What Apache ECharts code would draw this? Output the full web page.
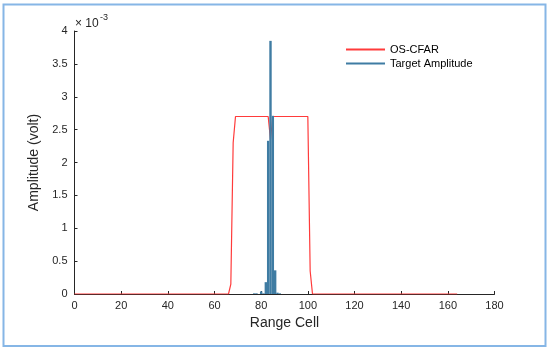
<!DOCTYPE html>
<html>
<head>
<meta charset="utf-8">
<script src="https://cdn.jsdelivr.net/npm/echarts@6/dist/echarts.min.js"></script>
<style>html,body{margin:0;padding:0;background:#fff}#c{width:550px;height:352px}</style>
</head>
<body>
<div id="c"></div>
<script>
// Values in units of 10^-3 volt
var xTicks = [0, 20, 40, 60, 80, 100, 120, 140, 160, 180];
var yTicks = [0, 0.5, 1, 1.5, 2, 2.5, 3, 3.5, 4];
// OS-CFAR threshold: [range cell, amplitude]
var osCfar = [[0,0],[66,0],[67,0.15],[68,2.3],[69,2.7],[83,2.7],[84,2.35],[85,2.7],[100,2.7],[101,0.35],[102,0],[164,0]];
// Target amplitude: [range cell, amplitude]
var targetAmp = [[77,0.01],[78,0.01],[80,0.04],[81,0.01],[82,0.18],[83,2.33],[84,3.85],[85,2.71],[86,0.36],[87,0.02],[88,0.01]];

var chart = echarts.init(document.getElementById('c'), null, {renderer:'canvas'});
var axisCol = '#262626';
var font = 'Liberation Sans, Arial, Helvetica, sans-serif';
chart.setOption({
  animation: false,
  backgroundColor: '#fff',
  grid: {left: 74.5, right: 55.5, top: 31, bottom: 58},
  legend: {
    orient: 'vertical', left: 341, top: 39, itemGap: 3,
    itemWidth: 39, itemHeight: 2,
    textStyle: {fontFamily: font, fontSize: 11, color: '#000'},
    data: [{name:'OS-CFAR', icon:'rect'}, {name:'Target Amplitude', icon:'rect'}]
  },
  xAxis: {
    type: 'value', min: 0, max: 180, interval: 20,
    name: 'Range Cell', nameLocation: 'middle', nameGap: 21,
    nameTextStyle: {fontFamily: font, fontSize: 14, color: axisCol},
    axisLine: {show: true, lineStyle: {color: axisCol, width: 1}},
    axisTick: {show: true, inside: true, length: 3, lineStyle: {color: axisCol}},
    axisLabel: {fontFamily: font, fontSize: 11, color: axisCol, margin: 6,
      formatter: function(v){ return xTicks.indexOf(v) >= 0 ? String(v) : ''; }},
    splitLine: {show: false}
  },
  yAxis: {
    type: 'value', min: 0, max: 4, interval: 0.5,
    name: 'Amplitude (volt)', nameLocation: 'middle', nameGap: 26,
    nameTextStyle: {fontFamily: font, fontSize: 14, color: axisCol},
    axisLine: {show: true, lineStyle: {color: axisCol, width: 1}},
    axisTick: {show: true, inside: true, length: 3, lineStyle: {color: axisCol}},
    axisLabel: {fontFamily: font, fontSize: 11, color: axisCol, margin: 7,
      formatter: function(v){ return yTicks.indexOf(v) >= 0 ? String(v) : ''; }},
    splitLine: {show: false}
  },
  series: [
    {
      name: 'OS-CFAR', type: 'line', data: osCfar, symbol: 'none',
      lineStyle: {color: '#ff3b3b', width: 1.2}, itemStyle: {color: '#ff3b3b'}, z: 2
    },
    {
      name: 'Target Amplitude', type: 'bar', data: targetAmp, barWidth: 2.4,
      itemStyle: {color: '#3f7ca3'}, z: 3
    }
  ],
  graphic: [
    {type: 'rect', shape: {x: 3.5, y: 4.5, width: 542, height: 341.5},
     style: {fill: 'none', stroke: '#86b6e6', lineWidth: 2}, silent: true},
    {type: 'text', left: 75, top: 18, style: {text: '× 10', fontFamily: font, fontSize: 12, fill: axisCol}},
    {type: 'text', left: 100, top: 13, style: {text: '-3', fontFamily: font, fontSize: 9, fill: axisCol}}
  ]
});
</script>
</body>
</html>
